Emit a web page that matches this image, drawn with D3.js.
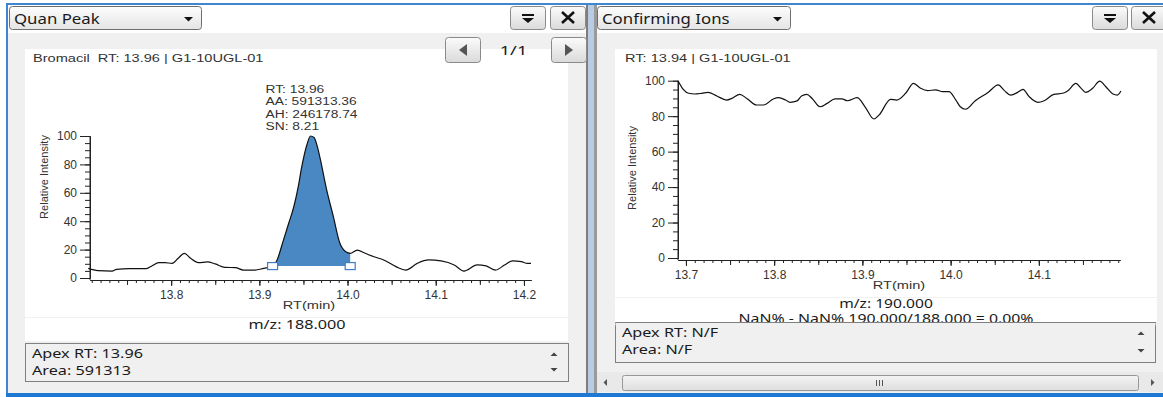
<!DOCTYPE html>
<html>
<head>
<meta charset="utf-8">
<script src="https://cdn.jsdelivr.net/npm/d3@7"></script>
<style>
  body { margin: 0; background: #fff; }
  svg { display: block; }
  .ui { font-family: "Noto Sans", "Open Sans", sans-serif; fill: #1a1a1a; }
  .ch { font-family: "Liberation Sans", Arial, sans-serif; fill: #333; }
</style>
</head>
<body>
<div id="chart"></div>
<script>
// quan peak trace (m/z 188), RT in min, relative intensity
const quanRT = [13.706, 13.717, 13.733, 13.738, 13.753, 13.772, 13.778, 13.786, 13.793, 13.801, 13.808, 13.815, 13.822, 13.831, 13.841, 13.850, 13.861, 13.873, 13.882, 13.895, 13.905, 13.914, 13.920, 13.927, 13.933, 13.939, 13.944, 13.948, 13.954, 13.958, 13.962, 13.966, 13.969, 13.976, 13.984, 13.991, 13.998, 14.003, 14.011, 14.020, 14.030, 14.041, 14.055, 14.066, 14.079, 14.092, 14.106, 14.121, 14.132, 14.147, 14.157, 14.168, 14.178, 14.187, 14.197, 14.204, 14.208]
const quanInt = [6.8, 5.2, 4.9, 6.1, 6.6, 6.6, 8.5, 10.8, 10.8, 10.3, 13.9, 17.4, 13.9, 10.8, 11.3, 9.9, 7.5, 7.3, 5.6, 5.6, 6.8, 8.0, 12.5, 26, 38, 50, 64, 78, 94, 100, 99, 92, 84, 63, 43, 25, 18.5, 17.4, 19.7, 17.4, 15, 12.7, 8.0, 5.6, 10.3, 12.7, 12, 9.2, 4.9, 9.2, 8.5, 5.6, 9.2, 12, 11.5, 10.3, 10.3]

// confirming ion trace (m/z 190)
const confRT = [13.691, 13.697, 13.703, 13.710, 13.718, 13.725, 13.735, 13.746, 13.752, 13.761, 13.769, 13.780, 13.788, 13.799, 13.805, 13.813, 13.818, 13.826, 13.831, 13.837, 13.843, 13.852, 13.860, 13.869, 13.877, 13.883, 13.894, 13.903, 13.913, 13.919, 13.932, 13.939, 13.949, 13.958, 13.966, 13.974, 13.983, 13.991, 13.998, 14.006, 14.011, 14.017, 14.028, 14.042, 14.054, 14.061, 14.068, 14.076, 14.082, 14.089, 14.099, 14.106, 14.117, 14.127, 14.133, 14.142, 14.148, 14.153, 14.161, 14.169, 14.176, 14.184, 14.189, 14.193]
const confInt = [100, 95.1, 92.9, 92.5, 92.9, 93.4, 91.4, 89.1, 90, 92.3, 90, 86.3, 86.3, 89.7, 90.4, 89.1, 87.8, 88.6, 91.4, 92.3, 90, 85.3, 87.2, 89.7, 89.7, 88.7, 90.4, 85.3, 78.4, 80.7, 89.5, 89.1, 92.9, 98.5, 95.7, 94.4, 94.8, 93.8, 93.8, 89.1, 85.3, 83.9, 88.7, 93.2, 97.6, 94.4, 91.9, 93.4, 95.1, 91, 87.8, 88.7, 92.3, 92.9, 94.4, 98.5, 95.7, 93.4, 95.7, 99.8, 96.6, 92.5, 91.9, 94.2]

// integrated peak limits
const peakStart = 13.915
const peakEnd = 14.003
const peakBase = 8.4
const peakLabels = ['RT: 13.96', 'AA: 591313.36', 'AH: 246178.74', 'SN: 8.21']

const yMajor = [0, 20, 40, 60, 80, 100]

const W = 1163, H = 397
const svg = d3.select('#chart').append('svg').attr('width', W).attr('height', H)

// the screenshot is a bit wider than tall, so texts get a horizontal stretch
function stext(parent, x, y, str, cls, size, sx, anchor) {
    return parent.append('text').attr('class', cls)
        .attr('transform', `translate(${x},${y}) scale(${sx},1)`)
        .attr('text-anchor', anchor || 'start').attr('font-size', size)
        .style('white-space', 'pre').text(str)
}

const defs = svg.append('defs')
function grad(id, c1, c2) {
    const lg = defs.append('linearGradient').attr('id', id).attr('x1', 0).attr('y1', 0).attr('x2', 0).attr('y2', 1)
    lg.append('stop').attr('offset', '0%').attr('stop-color', c1)
    lg.append('stop').attr('offset', '100%').attr('stop-color', c2)
}
grad('btnGrad', '#fbfbfb', '#dadada')
grad('ddGrad', '#fdfdfd', '#e4e4e4')
grad('sbGrad', '#f4f4f4', '#dedede')

// ---------- window frame ----------
svg.append('rect').attr('x', 0).attr('y', 0).attr('width', W).attr('height', H).attr('fill', '#fff')
svg.append('rect').attr('x', 6).attr('y', 3).attr('width', W - 6).attr('height', 2).attr('fill', '#3f86d2')
svg.append('rect').attr('x', 6).attr('y', 3).attr('width', 2).attr('height', H).attr('fill', '#3f86d2')

// panel bodies
svg.append('rect').attr('x', 8).attr('y', 33).attr('width', 578).attr('height', 360).attr('fill', '#f0f0f0')
svg.append('rect').attr('x', 597).attr('y', 33).attr('width', W - 597).attr('height', 360).attr('fill', '#f0f0f0')

// splitter between panels
svg.append('rect').attr('x', 586).attr('y', 5).attr('width', 2).attr('height', 388).attr('fill', '#7d7d7d')
svg.append('rect').attr('x', 588).attr('y', 5).attr('width', 6).attr('height', 388).attr('fill', '#b8cde3')
svg.append('rect').attr('x', 594).attr('y', 5).attr('width', 3).attr('height', 388).attr('fill', '#9a9a9a')

svg.append('rect').attr('x', 6).attr('y', 393).attr('width', W - 6).attr('height', 4).attr('fill', '#1f78d1')

// white canvases
svg.append('rect').attr('x', 25).attr('y', 49).attr('width', 543).attr('height', 292).attr('fill', '#fff')
svg.append('line').attr('x1', 25).attr('x2', 568).attr('y1', 317.5).attr('y2', 317.5).attr('stroke', '#f1f1f1')
svg.append('rect').attr('x', 615).attr('y', 49).attr('width', 542).attr('height', 273).attr('fill', '#fff')
svg.append('line').attr('x1', 615).attr('x2', 1157).attr('y1', 297.5).attr('y2', 297.5).attr('stroke', '#f1f1f1')

// ---------- widgets ----------
function dropdown(x, w, label) {
    svg.append('rect').attr('x', x + 0.5).attr('y', 6.5).attr('width', w).attr('height', 23).attr('rx', 3)
        .attr('fill', 'url(#ddGrad)').attr('stroke', '#6f6f6f')
    stext(svg, x + 5, 23.5, label, 'ui', '14px', 1.2)
    const tx = x + w - 17
    svg.append('path').attr('d', `M${tx},17 L${tx + 9},17 L${tx + 4.5},21.5 Z`).attr('fill', '#111')
}
function button(x, y, w, h) {
    svg.append('rect').attr('x', x + 0.5).attr('y', y + 0.5).attr('width', w).attr('height', h).attr('rx', 3)
        .attr('fill', 'url(#btnGrad)').attr('stroke', '#8a8a8a')
}
function menuButton(x) {
    button(x, 6, 35, 23)
    const cx = x + 18
    svg.append('rect').attr('x', cx - 6).attr('y', 14).attr('width', 12).attr('height', 2).attr('fill', '#111')
    svg.append('path').attr('d', `M${cx - 6},18 L${cx + 6},18 L${cx},23 Z`).attr('fill', '#111')
}
function closeButton(x) {
    button(x, 6, 35, 23)
    const cx = x + 18
    svg.append('path').attr('d', `M${cx - 6},12 L${cx + 6},23 M${cx + 6},12 L${cx - 6},23`)
        .attr('stroke', '#111').attr('stroke-width', 2.6)
}

dropdown(9, 192, 'Quan Peak')
menuButton(510)
closeButton(550)
dropdown(597, 193, 'Confirming Ions')
menuButton(1092)
closeButton(1131)

// page navigation (left panel)
button(445, 37, 35, 25)
svg.append('path').attr('d', 'M467,44 L467,56 L459,50 Z').attr('fill', '#555')
stext(svg, 513.5, 55, '1/1', 'ui', '13.5px', 1.35, 'middle')
button(551, 37, 35, 25)
svg.append('path').attr('d', 'M565,44 L565,56 L573,50 Z').attr('fill', '#555')

// info boxes
function infoBox(x, y, w, h, lines) {
    svg.append('rect').attr('x', x + 0.5).attr('y', y + 0.5).attr('width', w).attr('height', h)
        .attr('fill', '#f0f0f0').attr('stroke', '#7f7f7f')
    lines.forEach((t, i) => stext(svg, x + 7, y + 15 + i * 17, t, 'ui', '13.5px', 1.2))
    const ax = x + w - 14
    svg.append('path').attr('d', `M${ax - 3.5},${y + 13} L${ax + 3.5},${y + 13} L${ax},${y + 9.5} Z`).attr('fill', '#444')
    svg.append('path').attr('d', `M${ax - 3.5},${y + h - 13} L${ax + 3.5},${y + h - 13} L${ax},${y + h - 9.5} Z`).attr('fill', '#444')
}
infoBox(25, 343, 543, 38, ['Apex RT: 13.96', 'Area: 591313'])
infoBox(615, 322, 540, 40, ['Apex RT: N/F', 'Area: N/F'])

// horizontal scrollbar (right panel)
svg.append('rect').attr('x', 597).attr('y', 372).attr('width', W - 597).attr('height', 20).attr('fill', '#e9e9e9')
svg.append('path').attr('d', 'M607,379 L607,386 L603.5,382.5 Z').attr('fill', '#555')
svg.append('path').attr('d', 'M1151,379 L1151,386 L1154.5,382.5 Z').attr('fill', '#555')
svg.append('rect').attr('x', 622.5).attr('y', 375.5).attr('width', 516).attr('height', 15).attr('rx', 2)
    .attr('fill', 'url(#sbGrad)').attr('stroke', '#979797')
svg.append('g').selectAll('rect').data([-3, 0, 3]).join('rect')
    .attr('x', d => 879 + d).attr('y', 380).attr('width', 1).attr('height', 6).attr('fill', '#555')

// ---------- chromatograms ----------
function drawChart(o) {
    const g = svg.append('g')
    const x = d3.scaleLinear().domain(o.xDomain).range(o.xRange)
    const y = d3.scaleLinear().domain([0, 100]).range(o.yRange)
    const axisY = o.yRange[0] + 2
    const data = o.rt.map((r, i) => [r, o.val[i]])

    stext(g, o.titleX, 62, o.title, 'ch', '11.5px', 1.27)

    // x axis: 0.01 minor, 0.05 medium, 0.1 labelled
    const d0 = Math.ceil(o.xDomain[0] * 100), d1 = Math.floor(o.xDomain[1] * 100)
    const hund = d3.range(d0, d1 + 1)
    const minor = hund.map(v => v / 100)
    const mid = hund.filter(v => v % 5 === 0).map(v => v / 100)
    const major = hund.filter(v => v % 10 === 0).map(v => v / 100)

    const ax = g.append('g').attr('transform', `translate(0,${axisY})`)
    ax.append('g').call(d3.axisBottom(x).tickValues(minor).tickSize(3).tickSizeOuter(0).tickFormat(''))
    ax.append('g').call(d3.axisBottom(x).tickValues(mid).tickSize(5).tickSizeOuter(0).tickFormat(''))
    ax.append('g').call(d3.axisBottom(x).tickValues(major).tickSize(6).tickSizeOuter(0).tickPadding(4).tickFormat(d3.format('.1f')))

    const ay = g.append('g').attr('transform', `translate(${o.xRange[0]},0)`)
    ay.append('g').call(d3.axisLeft(y).tickValues(d3.range(0, 101, 5)).tickSize(5).tickSizeOuter(0).tickFormat(''))
    ay.append('g').call(d3.axisLeft(y).tickValues(yMajor).tickSize(10).tickSizeOuter(0).tickPadding(3))
    ay.append('line').attr('x1', 0).attr('x2', 0).attr('y1', y(100)).attr('y2', axisY).attr('stroke', '#222')

    g.selectAll('.domain').attr('stroke', '#222')
    g.selectAll('.tick line').attr('stroke', '#222')
    g.selectAll('.tick text').attr('class', 'ch').attr('font-size', '12px').attr('fill', '#333')

    g.append('text').attr('class', 'ch').attr('font-size', '11px')
        .attr('transform', `translate(${o.yLabelX},${o.yLabelY}) rotate(-90)`)
        .attr('text-anchor', 'middle').text('Relative Intensity')
    stext(g, o.xLabelX, axisY + 29, 'RT(min)', 'ch', '11.5px', 1.27, 'middle')

    if (o.peak) {
        const inPeak = data.filter(d => d[0] >= o.peak.start && d[0] <= o.peak.end)
        const area = d3.area().x(d => x(d[0])).y0(y(o.peak.base)).y1(d => y(Math.max(d[1], o.peak.base)))
            .curve(d3.curveMonotoneX)
        g.append('path').datum(inPeak).attr('d', area).attr('fill', '#4a88c4')
    }

    const line = d3.line().x(d => x(d[0])).y(d => y(d[1])).curve(d3.curveMonotoneX)
    g.append('path').datum(data).attr('d', line).attr('fill', 'none').attr('stroke', '#111').attr('stroke-width', 1.2)

    if (o.peak) {
        g.selectAll('.bm').data([o.peak.start, o.peak.end]).join('rect')
            .attr('x', d => x(d) - 5).attr('y', y(o.peak.base) - 3.5).attr('width', 10).attr('height', 7)
            .attr('fill', '#fff').attr('stroke', '#3b7fc8').attr('stroke-width', 1.2)
        const apex = data.reduce((a, b) => (b[1] > a[1] ? b : a))
        o.peak.labels.forEach((t, i) => stext(g, x(apex[0]) - 45, y(100) - 43 + i * 12.4, t, 'ch', '11.5px', 1.2))
    }
    return {x, y}
}

drawChart({
    rt: quanRT, val: quanInt,
    xDomain: [13.708, 14.208], xRange: [90, 531], yRange: [278, 136],
    title: 'Bromacil  RT: 13.96 | G1-10UGL-01', titleX: 33,
    yLabelX: 48, yLabelY: 177, xLabelX: 309,
    peak: {start: peakStart, end: peakEnd, base: peakBase, labels: peakLabels}
})
drawChart({
    rt: confRT, val: confInt,
    xDomain: [13.691, 14.192], xRange: [678, 1120], yRange: [258, 80.7],
    title: 'RT: 13.94 | G1-10UGL-01', titleX: 625,
    yLabelX: 636, yLabelY: 168, xLabelX: 899
})

// ion / ratio captions
stext(svg, 297, 329, 'm/z: 188.000', 'ui', '13.5px', 1.2, 'middle')
stext(svg, 886, 308, 'm/z: 190.000', 'ui', '13px', 1.2, 'middle')
stext(svg, 886, 323, 'NaN% - NaN% 190.000/188.000 = 0.00%', 'ui', '13px', 1.22, 'middle')
// info box edge drawn over the clipped caption
svg.append('rect').attr('x', 615.5).attr('y', 322.5).attr('width', 540).attr('height', 3).attr('fill', '#f0f0f0')
svg.append('line').attr('x1', 615.5).attr('x2', 1155.5).attr('y1', 322.5).attr('y2', 322.5).attr('stroke', '#7f7f7f')
</script>
</body>
</html>
